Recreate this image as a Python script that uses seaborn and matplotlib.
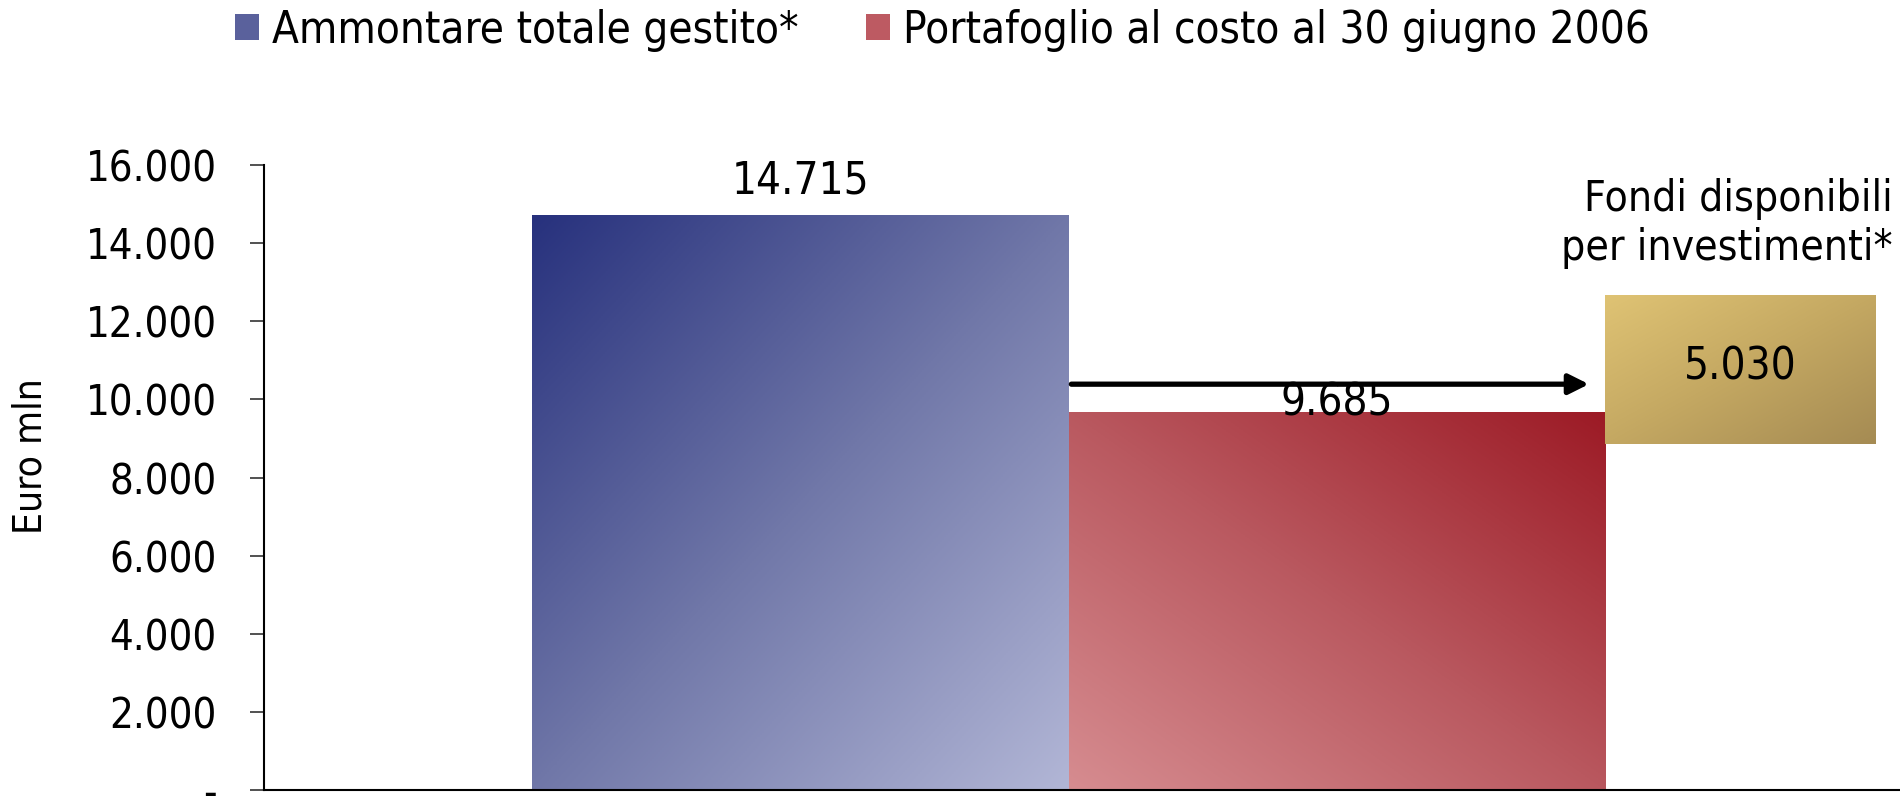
import numpy as np
import pandas as pd
import matplotlib
matplotlib.use("Agg")
import matplotlib.pyplot as plt
import seaborn as sns
from matplotlib import font_manager
from matplotlib.colors import LinearSegmentedColormap
from matplotlib.patches import Patch, Rectangle
from matplotlib.ticker import FuncFormatter

# dati
series = ["Ammontare totale gestito*", "Portafoglio al costo al 30 giugno 2006"]
values = [14715, 9685]
available_value = 5030
available_label = "Fondi disponibili\nper investimenti*"
y_label = "Euro mln"
y_ticks = [0, 2000, 4000, 6000, 8000, 10000, 12000, 14000, 16000]


def fmt_it(v, pos=None):
    if v == 0:
        return "-"
    return f"{v:,.0f}".replace(",", ".")


# font stretto se disponibile (il grafico originale usa un carattere compresso)
fonts = font_manager.fontManager.ttflist
has_condensed = any("Condensed" in f.fname for f in fonts if f.name == "DejaVu Sans")
FONT_STRETCH = "condensed" if has_condensed else "normal"
k = 1.0 if has_condensed else 0.9
FS_TICK = 30 * k
FS_TEXT = 31.5 * k

# gradienti (scuro/chiaro) come nelle barre originali
blue_cmap = LinearSegmentedColormap.from_list("blu", ["#27317d", "#7077a8", "#b2b6d6"])
red_cmap = LinearSegmentedColormap.from_list("rosso", ["#d68c90", "#b9585f", "#9c1a25"])
gold_cmap = LinearSegmentedColormap.from_list("oro", ["#dfc374", "#c4a862", "#a58b53"])

n = 256
xx, yy = np.meshgrid(np.linspace(0, 1, n), np.linspace(0, 1, n))
grad_tl_br = (xx + yy) / 2          # alto-sinistra -> basso-destra
grad_bl_tr = (xx + (1 - yy)) / 2    # basso-sinistra -> alto-destra

sns.set_theme(style="white")
plt.rcParams["font.family"] = ["DejaVu Sans"]
plt.rcParams["font.stretch"] = FONT_STRETCH
plt.rcParams["text.color"] = "black"
plt.rcParams["ytick.color"] = "black"
plt.rcParams["axes.labelcolor"] = "black"

fig = plt.figure(figsize=(19, 7.96), dpi=100)
ax = fig.add_axes([0.139, 0.0076, 0.861, 0.785])

df = pd.DataFrame({"serie": series, "valore": values})
sns.barplot(data=df, x="serie", y="valore", hue="serie",
            palette=["#6b72a6", "#bb5a62"], width=1.0, saturation=1,
            legend=False, ax=ax)

# riempimento sfumato delle barre
for patch, (cmap, grad) in zip(ax.patches, [(blue_cmap, grad_tl_br), (red_cmap, grad_bl_tr)]):
    x0, y0 = patch.get_x(), patch.get_y()
    w, h = patch.get_width(), patch.get_height()
    patch.set_facecolor("none")
    patch.set_edgecolor("none")
    im = ax.imshow(grad, cmap=cmap, extent=[x0, x0 + w, y0, y0 + h],
                   origin="upper", aspect="auto", zorder=1)
    im.set_clip_path(patch)

# etichette dei valori
label_offsets = [25, 6]
for i, v in enumerate(values):
    ax.annotate(fmt_it(v), (i, v), xytext=(0, label_offsets[i]), textcoords="offset points",
                ha="center", va="center", fontsize=FS_TEXT, color="black", zorder=5)

# box "fondi disponibili"
box_x, box_w = 1.5, 0.505
box_y0, box_y1 = 8870, 12680
box = Rectangle((box_x, box_y0), box_w, box_y1 - box_y0, facecolor="none", edgecolor="none")
ax.add_patch(box)
im = ax.imshow(grad_tl_br, cmap=gold_cmap, extent=[box_x, box_x + box_w, box_y0, box_y1],
               origin="upper", aspect="auto", zorder=2)
im.set_clip_path(box)
ax.text(box_x + box_w / 2, (box_y0 + box_y1) / 2 + 60, fmt_it(available_value),
        ha="center", va="center", fontsize=FS_TEXT, color="black", zorder=5)
ax.text(2.037, 14500, available_label, ha="right", va="center", fontsize=FS_TEXT - 1,
        linespacing=1.2, color="black")

# freccia
ax.annotate("", xy=(1.47, 10390), xytext=(0.505, 10390),
            arrowprops=dict(arrowstyle="-|>", lw=3.8, color="black", mutation_scale=30,
                            shrinkA=0, shrinkB=0), zorder=6)

ax.set_xlim(-1.0, 2.05)
ax.set_ylim(0, 16000)
ax.set_yticks(y_ticks)
ax.yaxis.set_major_formatter(FuncFormatter(fmt_it))
ax.set_xticks([])
ax.set_xlabel("")
ax.set_ylabel(y_label, fontsize=FS_TICK - 2)
ax.yaxis.set_label_coords(-0.131, 0.535)
ax.tick_params(axis="y", direction="out", length=10, width=1.2, color="#333333",
               labelsize=FS_TICK, pad=24, left=True)

sns.despine(ax=ax, top=True, right=True)
for side in ["left", "bottom"]:
    ax.spines[side].set_color("black")
    ax.spines[side].set_linewidth(1.5)

handles = [Patch(facecolor="#5a619c", edgecolor="none"),
           Patch(facecolor="#bd5a62", edgecolor="none")]
fig.legend(handles, series, loc="center", bbox_to_anchor=(0.496, 0.962), ncol=2,
           frameon=False, fontsize=FS_TEXT, handlelength=0.55, handleheight=0.55,
           handletextpad=0.3, columnspacing=1.55)

fig.savefig("out.png", dpi=100)
